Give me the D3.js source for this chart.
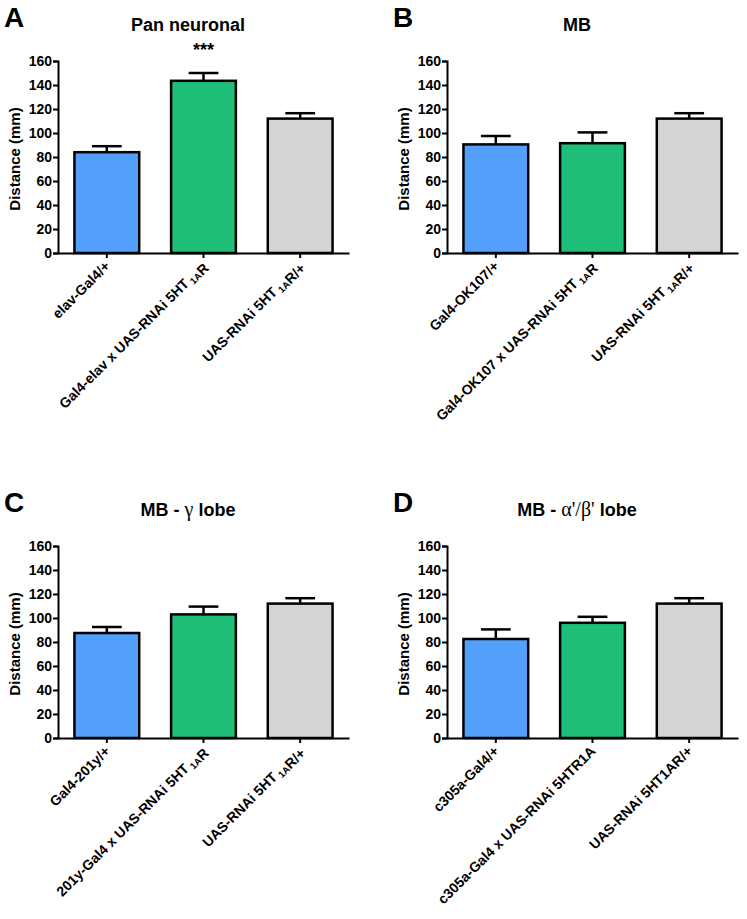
<!DOCTYPE html>
<html>
<head>
<meta charset="utf-8">
<script src="https://cdn.jsdelivr.net/npm/d3@7"></script>
<style>
  body { margin: 0; background: #fff; }
  text { font-family: "Liberation Sans", Arial, sans-serif; font-weight: bold; }
</style>
</head>
<body>
<script>
// panel letters and titles
var letters = ["A", "B", "C", "D"];
var titles = ["Pan neuronal", "MB", "MB - γ lobe", "MB - α'/β' lobe"];

// x labels per panel ("_1A" marks a subscript)
var labelsA = ["elav-Gal4/+", "Gal4-elav x UAS-RNAi 5HT_1AR", "UAS-RNAi 5HT_1AR/+"];
var labelsB = ["Gal4-OK107/+", "Gal4-OK107 x UAS-RNAi 5HT_1AR", "UAS-RNAi 5HT_1AR/+"];
var labelsC = ["Gal4-201y/+", "201y-Gal4 x UAS-RNAi 5HT_1AR", "UAS-RNAi 5HT_1AR/+"];
var labelsD = ["c305a-Gal4/+", "c305a-Gal4 x UAS-RNAi 5HTR1A", "UAS-RNAi 5HT1AR/+"];

// means and SEM (mm)
var meansA = [84, 143.5, 112];
var semA   = [5, 6.5, 4.5];
var meansB = [90.5, 91.5, 112];
var semB   = [7, 9, 4.5];
var meansC = [87.5, 103, 112];
var semC   = [5, 6.5, 4.5];
var meansD = [82.5, 96, 112];
var semD   = [8, 5, 4.5];

var stars = ["***", "", "", ""];
var yTicks = [0, 20, 40, 60, 80, 100, 120, 140, 160];
var colors = ["#52a0fb", "#1fbe79", "#d4d4d4"];

var panels = [
  {labels: labelsA, means: meansA, sem: semA, x: 58, y: 61},
  {labels: labelsB, means: meansB, sem: semB, x: 447, y: 61},
  {labels: labelsC, means: meansC, sem: semC, x: 58, y: 546},
  {labels: labelsD, means: meansD, sem: semD, x: 447, y: 546}
];

var W = 291, H = 192;

var svg = d3.select("body").append("svg")
    .attr("width", 747)
    .attr("height", 919);

var x = d3.scaleBand()
    .domain([0, 1, 2])
    .range([0, W])
    .paddingInner(0.33)
    .paddingOuter(0.17);

var y = d3.scaleLinear()
    .domain([0, 160])
    .range([H, 0]);

panels.forEach(function(p, i) {
  var g = svg.append("g").attr("transform", "translate(" + p.x + "," + p.y + ")");

  // panel letter
  g.append("text")
      .attr("x", -54)
      .attr("y", -34)
      .style("font-size", "28px")
      .text(letters[i]);

  // title (greek in serif like the original)
  var t = g.append("text")
      .attr("x", 130)
      .attr("y", -30)
      .attr("text-anchor", "middle")
      .style("font-size", "18px");
  titles[i].split(/([γαβ'\/]+)/).forEach(function(s) {
    if (!s) return;
    var greek = /[γαβ]/.test(s);
    t.append("tspan")
        .style("font-family", greek ? "'Liberation Serif', 'DejaVu Serif', serif" : null)
        .style("font-weight", greek ? "normal" : null)
        .style("font-size", greek ? "20px" : null)
        .text(s);
  });

  if (stars[i]) {
    g.append("text")
        .attr("x", x(1) + x.bandwidth() / 2)
        .attr("y", -5)
        .attr("text-anchor", "middle")
        .style("font-size", "18px")
        .text(stars[i]);
  }

  // bars
  g.selectAll("rect.bar")
    .data(p.means)
    .enter().append("rect")
      .attr("class", "bar")
      .attr("x", function(d, j) { return x(j); })
      .attr("y", function(d) { return y(d); })
      .attr("width", x.bandwidth())
      .attr("height", function(d) { return H - y(d); })
      .attr("fill", function(d, j) { return colors[j]; })
      .attr("stroke", "#000")
      .attr("stroke-width", 2.5);

  // error bars (upper only)
  var cap = x.bandwidth() * 0.23;
  p.means.forEach(function(m, j) {
    var cx = x(j) + x.bandwidth() / 2;
    g.append("line")
        .attr("x1", cx).attr("x2", cx)
        .attr("y1", y(m)).attr("y2", y(m + p.sem[j]))
        .attr("stroke", "#000").attr("stroke-width", 2.5);
    g.append("line")
        .attr("x1", cx - cap).attr("x2", cx + cap)
        .attr("y1", y(m + p.sem[j])).attr("y2", y(m + p.sem[j]))
        .attr("stroke", "#000").attr("stroke-width", 2.5);
  });

  // y axis
  var ya = g.append("g")
      .call(d3.axisLeft(y).tickValues(yTicks).tickSize(5).tickPadding(1));
  ya.select(".domain").attr("stroke-width", 2);
  ya.selectAll(".tick line").attr("stroke-width", 2);
  ya.selectAll(".tick text")
      .style("font-size", "14px")
      .style("font-family", "'Liberation Sans', Arial, sans-serif")
      .style("font-weight", "bold")
      .attr("fill", "#000");

  // x axis
  var xa = g.append("g")
      .attr("transform", "translate(0," + H + ")")
      .call(d3.axisBottom(x).tickSize(5).tickSizeOuter(0).tickFormat(""));
  xa.select(".domain").attr("stroke-width", 2);
  xa.selectAll(".tick line").attr("stroke-width", 2);

  // rotated category labels
  p.labels.forEach(function(lab, j) {
    var cx = x(j) + x.bandwidth() / 2;
    var lt = g.append("text")
        .attr("text-anchor", "end")
        .attr("transform", "translate(" + (cx + 4) + "," + (H + 14) + ") rotate(-45)")
        .style("font-size", "14px");
    lab.split(/(_1A)/).forEach(function(s) {
      if (!s) return;
      if (s === "_1A") {
        lt.append("tspan").attr("dy", 3).style("font-size", "9.5px").text(" 1A");
        lt.append("tspan").attr("dy", -3).text("");
      } else {
        lt.append("tspan").text(s);
      }
    });
  });

  // y axis title
  g.append("text")
      .attr("transform", "translate(-38," + (H / 2 + 2) + ") rotate(-90)")
      .attr("text-anchor", "middle")
      .style("font-size", "15px")
      .text("Distance (mm)");
});
</script>
</body>
</html>
